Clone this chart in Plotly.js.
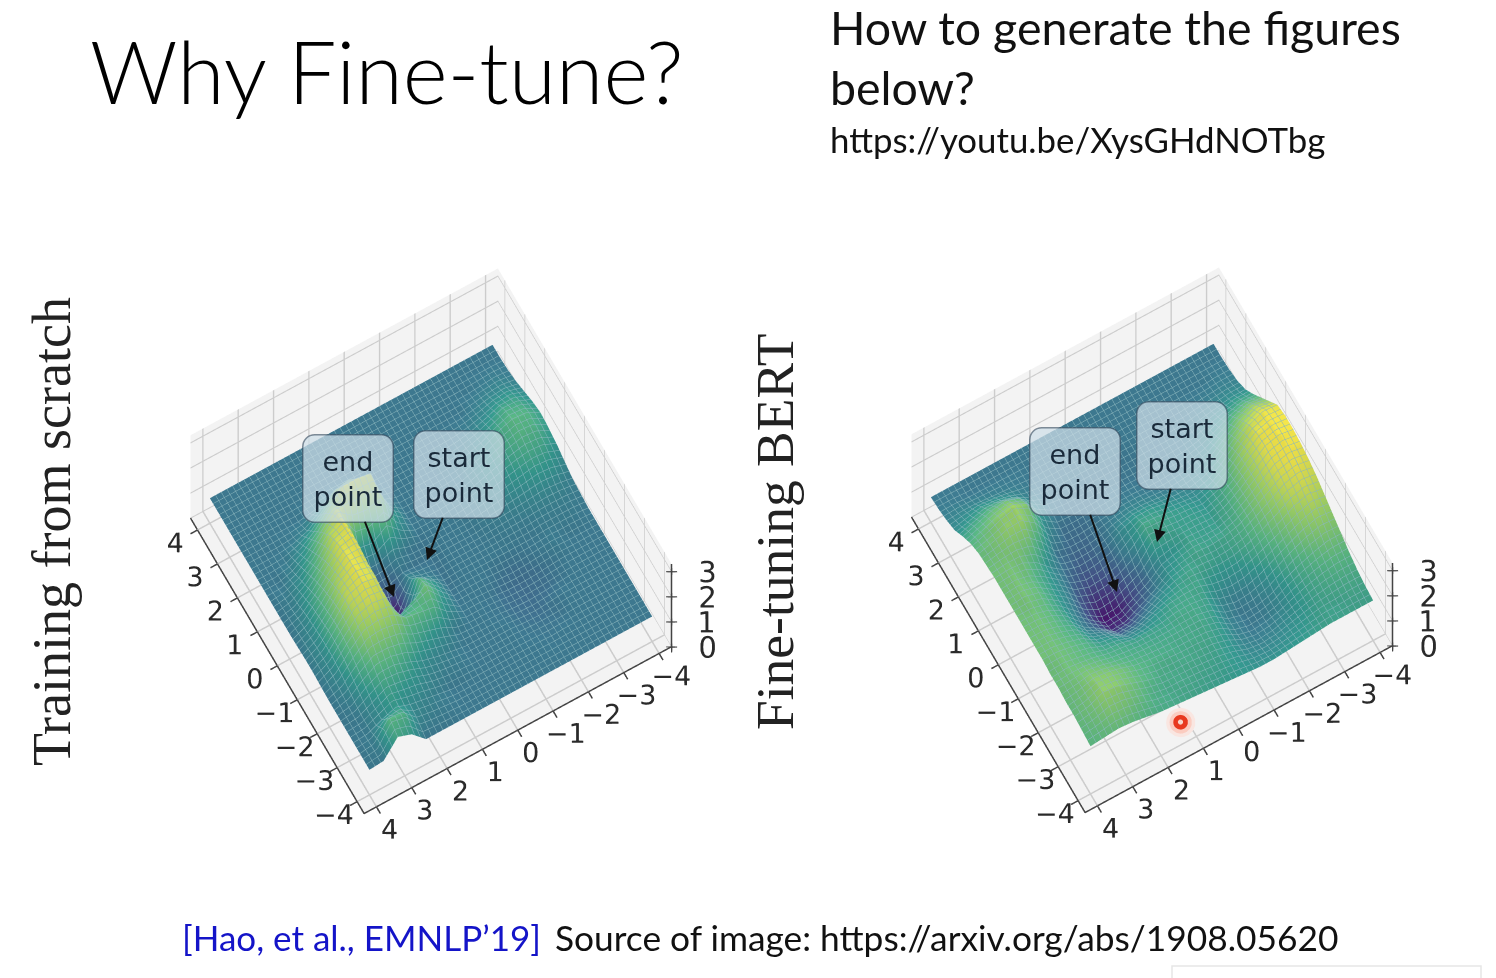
<!DOCTYPE html>
<html><head><meta charset="utf-8">
<script src="https://cdn.plot.ly/plotly-3.0.1.min.js"></script>
<style>html,body{margin:0;padding:0;background:#fff;overflow:hidden}#chart{width:1496px;height:978px}</style>
</head><body><div id="chart"></div>
<script>
const xCoords=[-4,-3.6,-3.2,-2.8,-2.4,-2,-1.6,-1.2,-0.8,-0.4,0,0.4,0.8,1.2,1.6,2,2.4,2.8,3.2,3.6,4];
const yCoords=[-4,-3.6,-3.2,-2.8,-2.4,-2,-1.6,-1.2,-0.8,-0.4,0,0.4,0.8,1.2,1.6,2,2.4,2.8,3.2,3.6,4];
const axisTicks=[-4,-3,-2,-1,0,1,2,3,4];
const heightTicks=[0,1,2,3];
const heightLabels=['  0','  1','  2','  3'];
const zScratch=[
[1,1,1,1,1,1,1,1,1,1.05,1.1,1.25,1.4,1.5,1.55,1.45,1.3,1.15,1.05,1,1],
[1,1,1,1,1,1,1,1,1.05,1.1,1.2,1.45,1.65,1.8,1.85,1.7,1.5,1.25,1.1,1,1],
[1,1,1,1,1,1,1,1,1.05,1.1,1.25,1.5,1.7,1.85,1.9,1.75,1.45,1.2,1.05,1,1],
[1,1,1,1,1,1,1,1.05,1.05,1.1,1.2,1.4,1.6,1.7,1.7,1.5,1.25,1.1,1,1,1],
[1,1,1,1,1,0.95,0.95,1,1,1.05,1.15,1.3,1.45,1.5,1.4,1.25,1.1,1,1,1,1],
[1,1,1,0.95,0.95,0.9,0.9,0.95,1,1.05,1.1,1.2,1.3,1.3,1.2,1.1,1.02,1,1,1,1],
[1,1,0.98,0.95,0.9,0.88,0.88,0.92,1,1.02,1.05,1.1,1.15,1.1,1.05,1.02,1,1,1,1,1],
[1,1,1,0.97,0.93,0.9,0.9,0.95,1,1,1,1.02,1.05,1.02,1,1,1,1,1,1,1],
[1,1,1,1,1,0.97,0.97,1,1,1,1,1,1,1,1,1,1,1,1,1,1],
[1,1,1,1,1,1,1,1,1,1,1,1,1,1,1,1,1,1,1,1,1],
[1,1,1,1,1,1,1,0.98,0.95,0.95,0.95,0.97,1,1,1,1,1,1,1,1,1],
[1,1,1,1,1,1.05,1.3,1.5,1.45,1.1,0.95,1,1.3,1.5,1.3,1.1,1,1,1,1,1],
[1,1,1,1.05,1.1,1.3,1.8,2.1,1.9,1.3,1,1.15,1.8,2.6,2.8,1.8,1.1,1,1,1,1],
[1,1,1,1.1,1.2,1.5,1.9,1.8,0.4,0.25,0.8,0.95,1.4,2.5,2.9,2.3,1.2,1,1,1,1],
[1,1.05,1.1,1.2,1.35,1.7,2,1.5,0.7,0.6,0.75,0.9,1.5,2.6,2.9,2.2,1.2,1,1,1,1],
[1,1.1,1.2,1.4,1.6,2,2.4,2.7,2.8,2.8,2.9,2.95,2.9,2.8,2.3,1.6,1.1,1,1,1,1],
[1,1.2,1.3,1.5,1.8,2.1,2.5,2.8,2.9,2.95,2.9,2.8,2.6,2.2,1.7,1.2,1,1,1,1,1],
[1.5,1.8,1.5,1.6,1.8,2.1,2.4,2.6,2.7,2.6,2.4,2.2,1.9,1.6,1.3,1.05,1,1,1,1,1],
[1.7,1.9,1.3,1.3,1.5,1.7,1.9,2,2,1.9,1.8,1.6,1.4,1.2,1.05,1,1,1,1,1,1],
[1.05,1.1,1.05,1.05,1.1,1.2,1.3,1.35,1.35,1.3,1.25,1.15,1.1,1,1,1,1,1,1,1,1],
[1,1,1,1,1,1,1.02,1.05,1.05,1.02,1,1,1,1,1,1,1,1,1,1,1]
];
const zFineTune=[
[1.6,1.65,1.75,1.9,2.1,2.3,2.5,2.7,2.85,2.95,3,3,2.9,2.5,2.1,1.7,1.35,1.15,1.05,1,1],
[1.6,1.65,1.75,1.9,2.1,2.35,2.6,2.8,2.95,3.05,3.1,3.05,2.95,2.6,2.15,1.7,1.35,1.15,1.05,1,1],
[1.6,1.6,1.7,1.8,1.95,2.2,2.4,2.65,2.8,2.9,2.95,2.9,2.7,2.35,1.95,1.55,1.25,1.1,1,1,1],
[1.6,1.6,1.6,1.65,1.75,1.95,2.1,2.3,2.45,2.5,2.5,2.45,2.25,1.95,1.6,1.35,1.15,1.05,1,1,1],
[1.55,1.5,1.45,1.45,1.5,1.65,1.85,2,2.1,2.1,2.05,1.95,1.75,1.5,1.3,1.15,1.05,1,1,1,1],
[1.5,1.4,1.3,1.2,1.2,1.35,1.6,1.75,1.8,1.75,1.7,1.6,1.4,1.25,1.15,1.05,1,1,1,1,1],
[1.45,1.3,1.15,1.05,1.05,1.15,1.4,1.6,1.65,1.55,1.5,1.4,1.25,1.15,1.05,1,1,1,1,1,1],
[1.4,1.25,1.1,1,1,1.1,1.35,1.55,1.6,1.55,1.55,1.5,1.3,1.1,1,1,1,1,1,1,1],
[1.4,1.3,1.2,1.15,1.15,1.25,1.45,1.6,1.65,1.6,1.55,1.55,1.4,1.15,1,0.97,0.97,1,1,1,1],
[1.45,1.45,1.45,1.5,1.55,1.6,1.65,1.65,1.55,1.45,1.6,1.65,1.5,1.2,1.05,0.97,0.97,1,1,1,1],
[1.5,1.55,1.6,1.65,1.7,1.7,1.65,1.55,1.4,1.3,1.6,1.7,1.5,1.2,1.05,0.98,0.97,1,1,1,1],
[1.55,1.6,1.65,1.7,1.7,1.7,1.6,1.35,1,0.85,0.95,1.25,1.3,1.1,1,0.97,0.97,1,1,1,1],
[1.6,1.65,1.7,1.7,1.7,1.6,1.45,1.05,0.7,0.55,0.7,0.85,0.95,0.95,0.95,0.95,0.97,1,1,1,1],
[1.65,1.7,1.7,1.75,1.7,1.6,1.25,0.8,0.4,0.25,0.45,0.65,0.8,0.85,0.9,0.95,0.97,1,1,1,1],
[1.7,1.7,1.75,1.8,1.75,1.6,1.2,0.75,0.35,0.2,0.4,0.6,0.75,0.85,0.9,1,1.05,1.05,1,1,1],
[1.75,1.8,1.9,1.9,1.8,1.7,1.45,1.1,0.75,0.6,0.65,0.8,0.9,0.95,1.2,1.4,1.35,1.15,1.05,1,1],
[1.85,2,2.1,2.1,1.9,1.75,1.55,1.3,1.1,1.1,1.2,1.25,1.3,1.6,2,2.2,1.9,1.4,1.1,1,1],
[1.95,2.15,2.3,2.25,2.05,1.9,1.85,1.75,1.65,1.6,1.6,1.65,1.8,2.1,2.4,2.45,2.1,1.55,1.15,1,1],
[2,2.2,2.35,2.3,2.15,2,2,1.95,1.95,1.95,2,2,2.1,2.2,2.35,2.3,2,1.6,1.2,1,1],
[1.95,2.05,2.1,2.1,2.1,2.1,2.1,2.1,2.1,2.1,2.15,2.15,2.15,2.15,2.15,2.05,1.8,1.45,1.2,1.05,1],
[1.9,1.95,2,2,2.05,2.05,2.1,2.1,2.1,2.1,2.1,2.1,2.1,2.05,2,1.85,1.6,1.3,1.15,1.05,1]
];
const laserX=[-3.55,-3.55,-3.55,-3.55];
const laserY=[1.2,1.2,1.2,1.2];
const laserZ=[0.12,0.12,0.12,0.12];

const W=1496,H=978,EDGE=4.35;
const px=v=>v/W, py=v=>1-v/H;
const softViridis=[[0,'#4a1670'],[0.15,'#46558c'],[0.286,'#3e7b92'],[0.45,'#359a90'],[0.6,'#5ab985'],[0.8,'#a0d468'],[1,'#f4e64a']];
const meshLine={show:true,start:-4,end:4,size:0.16,color:'#8ab6bd',width:1};
function surface(z,scene){return {type:'surface',x:xCoords,y:yCoords,z:z,scene:scene,colorscale:softViridis,cmin:0.2,cmax:3,showscale:false,hoverinfo:'skip',
  lighting:{ambient:0.95,diffuse:0.12,specular:0,roughness:1,fresnel:0},
  contours:{x:meshLine,y:meshLine,z:{show:false}}};}
function zAxisTrace(scene){return [
 {type:'scatter3d',mode:'lines',scene:scene,x:[-EDGE,-EDGE],y:[-EDGE,-EDGE],z:[0,3.3],line:{color:'#444',width:3},hoverinfo:'skip'},
 {type:'scatter3d',mode:'markers+text',scene:scene,x:heightTicks.map(()=>-EDGE),y:heightTicks.map(()=>-EDGE),z:heightTicks,text:heightLabels,textposition:'middle right',
  textfont:{family:'DejaVu Sans',size:29,color:'#2a2a2a'},marker:{symbol:'cross',size:6,color:'#444'},hoverinfo:'skip'}];}
function axis(ticks,range,show){return {range:range,tickvals:ticks,ticktext:ticks.map(t=>t<0?'\u2212'+(-t):String(t)),tickangle:0,
  showticklabels:show,title:{text:''},showgrid:true,gridcolor:'#cccccc',gridwidth:3,zeroline:false,showspikes:false,
  showline:show,linecolor:'#444',linewidth:3,ticks:show?'outside':'',ticklen:8,tickcolor:'#444',tickwidth:3,
  showbackground:true,backgroundcolor:'#f3f3f3',tickfont:{family:'DejaVu Sans',size:18,color:'#2a2a2a'}};}
function scene(dx0,dx1,dy0,dy1){return {domain:{x:[px(dx0),px(dx1)],y:[py(dy1),py(dy0)]},
  aspectmode:'manual',aspectratio:{x:1,y:1,z:0.85},
  xaxis:axis(axisTicks,[-EDGE,EDGE],true),yaxis:axis(axisTicks,[-EDGE,EDGE],true),zaxis:axis(heightTicks,[0,3.3],false),
  camera:{projection:{type:'orthographic'},eye:{x:-0.673,y:0.38,z:2.69},up:{x:0,y:0,z:1},center:{x:0,y:0,z:0}}};}
function text(t,x,y,size,opts){return Object.assign({text:t,xref:'paper',yref:'paper',x:px(x),y:py(y),xanchor:'left',yanchor:'middle',showarrow:false,
  font:{family:'Lato',size:size,color:'#111'}},opts||{});}
function callout(t,tipX,tipY,boxX,boxY){return {text:t,xref:'paper',yref:'paper',x:px(tipX),y:py(tipY),axref:'pixel',ayref:'pixel',ax:boxX-tipX,ay:boxY-tipY,
  showarrow:true,arrowhead:2,arrowsize:1.2,arrowwidth:2,arrowcolor:'#111',standoff:0,
  bgcolor:'rgba(205,222,232,0.72)',bordercolor:'rgba(50,70,90,0.6)',borderwidth:1.5,borderpad:10,align:'center',
  font:{family:'DejaVu Sans',size:27,color:'#1a2a3a'}};}
const annotations=[
 text('How to generate the figures',828,27,46.5),
 text('below?',828,87,46.5),
 text('https://youtu.be/XysGHdNOTbg',828,139,34.8),
 text('Training from scratch',52,532,54,{textangle:-90,xanchor:'center',font:{family:'Liberation Serif',size:54,color:'#222'}}),
 text('Fine-tuning BERT',775,532,53.5,{textangle:-90,xanchor:'center',font:{family:'Liberation Serif',size:53.5,color:'#222'}}),
 text('[Hao, et al., EMNLP\u201919]',180,937,35,{font:{family:'Lato',size:35,color:'#1414c8'}}),
 text('Source of image: https://arxiv.org/abs/1908.05620',553,937,35.3),
 callout('end<br>point',394,597,348,478),
 callout('start<br>point',427,560,459,474),
 callout('end<br>point',1117,592,1075,471),
 callout('start<br>point',1157,542,1182,445)
];
const traces=[surface(zScratch,'scene'),surface(zFineTune,'scene2'),...zAxisTrace('scene'),...zAxisTrace('scene2'),
 {type:'scatter3d',mode:'markers',scene:'scene2',x:laserX,y:laserY,z:laserZ,hoverinfo:'skip',
  marker:{size:[34,26,17,6],color:['#f9e6e1','#fbccc0','#e8391f','#f7d5c9'],line:{width:0},opacity:1}}];
const layout={width:W,height:H,margin:{l:0,r:0,t:0,b:0},paper_bgcolor:'#fff',showlegend:false,
 title:{text:'Why Fine-tune?',x:px(90),xanchor:'left',y:py(74),yanchor:'middle',font:{family:'Lato',size:86,weight:300,color:'#000'}},
 scene:scene(102,760,188,894),scene2:scene(823,1481,187,893),annotations:annotations,
 shapes:[{type:'rect',xref:'paper',yref:'paper',x0:px(1172),x1:px(1481),y0:py(966),y1:py(990),line:{color:'#e6e6e6',width:1.5},fillcolor:'#fff'}]};
Plotly.newPlot('chart',traces,layout,{displayModeBar:false}).then(()=>{
 document.querySelectorAll('.annotation-text-g rect.bg').forEach(r=>{r.setAttribute('rx',12);r.setAttribute('ry',12);});
});
</script></body></html>
